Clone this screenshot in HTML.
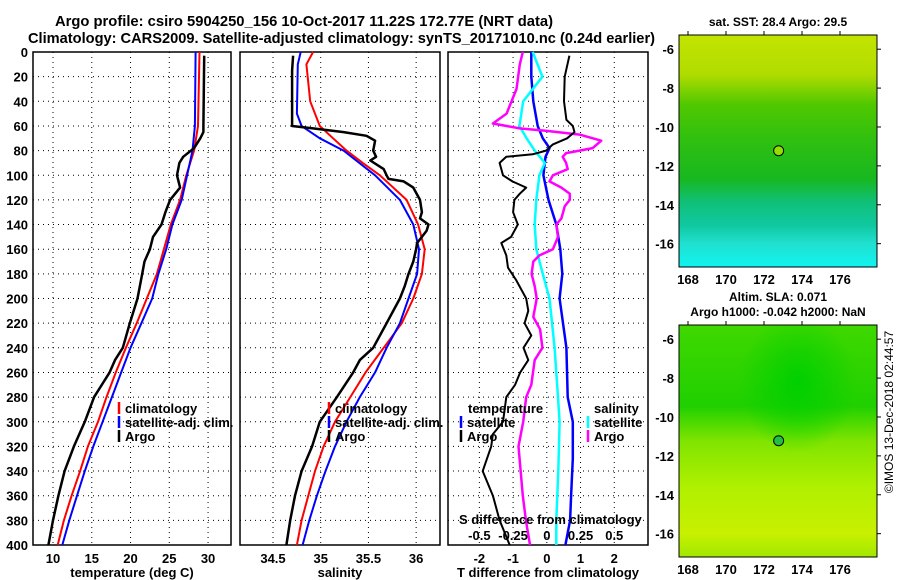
<!DOCTYPE html>
<html><head><meta charset="utf-8"><style>
html,body{margin:0;padding:0;background:#fff;}
svg{display:block;font-family:"Liberation Sans",Arial,sans-serif;font-weight:bold;}
</style></head><body>
<svg id="fig" width="900" height="580" viewBox="0 0 900 580" xmlns="http://www.w3.org/2000/svg">
<defs>
<linearGradient id="sstg" x1="0" y1="0" x2="0" y2="1">
<stop offset="0" stop-color="#c4e400"/><stop offset="0.17" stop-color="#b0dc00"/>
<stop offset="0.3" stop-color="#50c800"/><stop offset="0.45" stop-color="#30c010"/>
<stop offset="0.62" stop-color="#18b820"/><stop offset="0.72" stop-color="#10c078"/>
<stop offset="0.82" stop-color="#10c8a0"/><stop offset="0.9" stop-color="#20e0d0"/>
<stop offset="1" stop-color="#10f4f0"/></linearGradient>
<linearGradient id="slag" x1="0" y1="0" x2="0" y2="1">
<stop offset="0" stop-color="#40d800"/><stop offset="0.35" stop-color="#20d000"/>
<stop offset="0.5" stop-color="#80e400"/><stop offset="0.7" stop-color="#b0f000"/>
<stop offset="0.9" stop-color="#c8f000"/><stop offset="1" stop-color="#a0e800"/></linearGradient>
<radialGradient id="slab" cx="0.6" cy="0.25" r="0.3"><stop offset="0" stop-color="#00d000"/><stop offset="1" stop-color="#00d000" stop-opacity="0"/></radialGradient>
</defs>
<g id="titles">
<text x="55" y="26" font-size="14.7" textLength="498" lengthAdjust="spacingAndGlyphs">Argo profile: csiro 5904250_156 10-Oct-2017 11.22S 172.77E (NRT data)</text>
<text x="28" y="43" font-size="14.7" textLength="627" lengthAdjust="spacingAndGlyphs">Climatology: CARS2009. Satellite-adjusted climatology: synTS_20171010.nc (0.24d earlier)</text>
</g>
<g id="p1"></g><g id="p2"></g><g id="p3"></g>
<g id="maps"></g>
<text transform="translate(893,412) rotate(-90)" font-size="12" font-weight="normal" text-anchor="middle">©IMOS 13-Dec-2018 02:44:57</text>
</svg>
<script>
// ---------- data ----------
const tDepth = [0,60,80,100,120,140,160,180,200,220,240,260,280,300,320,340,360,380,400];
const tClim = [28.9,28.7,28.2,27.2,26.4,25.2,24.3,23.4,22.1,20.8,19.4,18.1,16.9,15.8,14.5,13.5,12.4,11.4,10.6];
const tSat = [28.4,28.3,28.0,27.3,26.6,25.4,24.6,23.6,22.8,21.4,20.0,18.8,17.6,16.4,15.2,14.1,13.1,12.1,11.2];
const argoDepth = [3,60,65,70,78,85,90,100,110,120,130,140,150,160,170,180,200,220,240,250,260,280,300,320,340,360,380,400];
const tArgo = [29.5,29.4,29.4,29.0,28.2,26.8,26.3,26.0,26.4,25.1,24.5,24.0,22.9,22.5,21.8,21.5,20.9,19.9,19.0,18.0,17.3,15.3,14.1,12.7,11.5,10.7,10.0,9.4];
const sDepth = [0,10,40,60,70,80,90,100,120,140,160,180,200,220,240,260,280,300,320,340,360,380,400];
const sClim = [34.92,34.85,34.89,34.99,35.13,35.27,35.44,35.62,35.90,36.02,36.09,36.06,35.97,35.85,35.66,35.47,35.31,35.15,35.03,34.94,34.87,34.80,34.75];
const sSatDepth = [0,10,50,60,70,80,100,120,140,160,180,200,220,240,260,280,300,320,340,360,380,400];
const sSat = [34.79,34.76,34.75,34.80,34.99,35.24,35.57,35.83,35.97,36.03,36.01,35.92,35.83,35.69,35.57,35.41,35.27,35.15,35.05,34.96,34.88,34.81];
const sArgoDepth = [3,15,60,62,65,68,72,80,85,88,95,100,103,105,110,120,130,135,140,145,150,155,160,170,180,190,200,220,240,250,260,280,300,320,340,360,380,400];
const sArgo = [34.71,34.70,34.70,34.92,35.24,35.48,35.57,35.55,35.58,35.52,35.66,35.69,35.71,35.87,35.97,36.04,36.06,36.04,36.13,36.11,36.06,36.01,36.00,35.97,35.92,35.88,35.83,35.69,35.55,35.41,35.34,35.17,34.99,34.91,34.80,34.73,34.68,34.64];
const dtArgoDepth = [3,20,40,55,60,65,70,75,80,83,85,90,100,105,110,115,120,130,140,150,155,165,175,185,200,210,220,230,240,250,260,270,280,300,310,320,340,360,380,400];
const dtArgo = [0.67,0.53,0.51,0.58,0.77,0.82,0.6,0.18,-0.02,-0.42,-1.2,-1.4,-1.3,-1.02,-0.61,-0.8,-0.96,-1.0,-0.86,-1.06,-1.35,-1.2,-1.15,-0.91,-0.61,-0.55,-0.66,-0.46,-0.69,-0.55,-0.79,-0.94,-1.2,-1.3,-1.6,-1.65,-1.9,-1.6,-1.4,-1.1];
const dtSatDepth = [0,20,40,60,70,78,85,100,120,140,160,180,200,240,280,300,330,360,380,400];
const dtSat = [-0.46,-0.46,-0.4,-0.27,-0.12,0.08,-0.04,-0.1,0.05,0.28,0.4,0.46,0.38,0.58,0.62,0.77,0.77,0.72,0.69,0.55];
const dsSatDepth = [0,20,40,60,70,80,90,100,120,140,160,180,200,240,280,300,340,380,400];
const dsSat = [-0.105,-0.033,-0.175,-0.203,-0.15,-0.09,-0.015,-0.055,-0.078,-0.09,-0.078,-0.03,0.02,0.058,0.083,0.095,0.085,0.07,0.07];
const dsArgoDepth = [0,10,30,50,58,62,64,67,72,78,80,82,85,90,95,100,105,110,115,120,125,135,140,150,160,165,170,180,190,200,215,225,240,250,270,280,300,320,360,380,400];
const dsArgo = [-0.178,-0.2,-0.225,-0.298,-0.4,-0.2,0.0,0.243,0.403,0.34,0.243,0.143,0.118,0.143,0.155,0.045,0.02,0.108,0.17,0.17,0.133,0.108,0.07,0.083,0.045,-0.055,-0.1,-0.113,-0.09,-0.075,-0.1,-0.05,-0.033,-0.09,-0.115,-0.153,-0.175,-0.21,-0.178,-0.155,-0.125];
const depthTicks = [0,20,40,60,80,100,120,140,160,180,200,220,240,260,280,300,320,340,360,380,400];
const tTicks = [10,15,20,25,30];
const sTicks = [34.5,35,35.5,36];
const dTicks = [-2,-1,0,1,2];
const dsTicks = [-0.5,-0.25,0,0.25,0.5];
const dsTickLabels = ["-0.5","-0.25","0","0.25","0.5"];
const lonTicks = [168,170,172,174,176];
const latTicks = [-6,-8,-10,-12,-14,-16];
const argoLon = [172.77];
const argoLat = [-11.22];

const NS="http://www.w3.org/2000/svg";
function el(tag, attrs, parent, txt){const e=document.createElementNS(NS,tag);for(const k in attrs)e.setAttribute(k,attrs[k]);if(txt!==undefined)e.textContent=txt;parent.appendChild(e);return e;}
const Y0=52, Y1=545;
const yD = d => Y0 + (d/400)*(Y1-Y0);

function panel(g, x0, x1, vmin, vmax, vticks, labels, xlabel, showDepth){
  const sx = v => x0 + (v-vmin)/(vmax-vmin)*(x1-x0);
  vticks.forEach(v=>{const l=el('line',{x1:sx(v),x2:sx(v),y1:Y0,y2:Y1,stroke:'#000','stroke-width':1,'stroke-dasharray':'1,4'},g);
    });
  depthTicks.forEach(d=>{const l=el('line',{x1:x0,x2:x1,y1:yD(d),y2:yD(d),stroke:'#000','stroke-width':1,'stroke-dasharray':'1,4'},g);
    
    if(showDepth){const t=el('text',{x:x0-5,y:yD(d)+5,'font-size':13,'text-anchor':'end'},g,String(d));
      }});
  vticks.forEach((v,i)=>{const t=el('text',{x:sx(v),y:Y1+18,'font-size':13,'text-anchor':'middle'},g,labels[i]);
    });
  const xl=el('text',{x:(x0+x1)/2,y:Y1+32,'font-size':13,'text-anchor':'middle'},g,xlabel);
  
  const r=el('rect',{x:x0,y:Y0,width:x1-x0,height:Y1-Y0,fill:'none',stroke:'#000','stroke-width':1.5},g);
  
  return sx;
}
function line(g, sx, depths, vals, color, w, name){
  const pts = vals.map((v,i)=>sx(v).toFixed(1)+','+yD(depths[i]).toFixed(1)).join(' ');
  const p=el('polyline',{points:pts,fill:'none',stroke:color,'stroke-width':w,'stroke-linejoin':'round'},g);
  
}
function legendRow(g,x,y,color,label,name){
  const l=el('line',{x1:x,x2:x,y1:y-11,y2:y+1,stroke:color,'stroke-width':2.5},g);
  
  const t=el('text',{x:x+6,y:y,'font-size':13},g,label);
  
}
const g1=document.getElementById('p1');

const sx1=panel(g1,33,231,7.42,32.96,tTicks,tTicks.map(String),'temperature (deg C)',true);
line(g1,sx1,tDepth,tClim,'#f00',2,'temperature-climatology-line');
line(g1,sx1,tDepth,tSat,'#00f',2,'temperature-satellite-line');
line(g1,sx1,argoDepth,tArgo,'#000',2.5,'temperature-argo-line');
legendRow(g1,119,413,'#f00','climatology','legend-climatology');
legendRow(g1,119,427,'#00f','satellite-adj. clim.','legend-satellite');
legendRow(g1,119,441,'#000','Argo','legend-argo');
const g2=document.getElementById('p2');

const sx2=panel(g2,240,440,34.154,36.25,sTicks,sTicks.map(String),'salinity',false);
line(g2,sx2,sDepth,sClim,'#f00',2,'salinity-climatology-line');
line(g2,sx2,sSatDepth,sSat,'#00f',2,'salinity-satellite-line');
line(g2,sx2,sArgoDepth,sArgo,'#000',2.5,'salinity-argo-line');
legendRow(g2,329,413,'#f00','climatology','legend-climatology');
legendRow(g2,329,427,'#00f','satellite-adj. clim.','legend-satellite');
legendRow(g2,329,441,'#000','Argo','legend-argo');
const g3=document.getElementById('p3');

const sx3=panel(g3,448,648,-2.93,3.0,dTicks,dTicks.map(String),'T difference from climatology',false);
const sxS = v => sx3(v*4);
line(g3,sx3,dtSatDepth,dtSat,'#00f',2.5,'t-diff-satellite-line');
line(g3,sxS,dsSatDepth,dsSat,'#0ff',2.5,'s-diff-satellite-line');
line(g3,sxS,dsArgoDepth,dsArgo,'#f0f',2.5,'s-diff-argo-line');
line(g3,sx3,dtArgoDepth,dtArgo,'#000',2,'t-diff-argo-line');
let t=el('text',{x:468,y:413,'font-size':13},g3,'temperature');

legendRow(g3,461,427,'#00f','satellite','legend-t-satellite');
legendRow(g3,461,441,'#000','Argo','legend-t-argo');
t=el('text',{x:594,y:413,'font-size':13},g3,'salinity');

legendRow(g3,588,427,'#0ff','satellite','legend-s-satellite');
legendRow(g3,588,441,'#f0f','Argo','legend-s-argo');
t=el('text',{x:459,y:524,'font-size':13},g3,'S difference from climatology');

dsTicks.forEach((v,i)=>{const tt=el('text',{x:sxS(v),y:540,'font-size':13,'text-anchor':'middle'},g3,dsTickLabels[i]);
  });
const gm=document.getElementById('maps');
function map(x0,y0,x1,y1,fill,name,title1,title2,labY){
  const g=el('g',{},gm);
  
  const la0 = -5.27, la1 = -17.2;
  const lonS = lo => 688 + (lo-168)*19;
  const latS = la => y0 + (la0 - la)*((y1-y0)/(la0-la1));
  const r=el('rect',{x:x0,y:y0,width:x1-x0,height:y1-y0,fill:fill},g);
  
  if(name==='altimetry-map'){
    const b=el('rect',{x:x0,y:y0,width:x1-x0,height:y1-y0,fill:'url(#slab)'},g);
    
  }
  const f=el('rect',{x:x0,y:y0,width:x1-x0,height:y1-y0,fill:'none',stroke:'#000','stroke-width':1},g);
  
  lonTicks.forEach(lo=>{const tl=el('line',{x1:lonS(lo),x2:lonS(lo),y1:y0-4,y2:y0,stroke:'#000'},g);
    
    const tx=el('text',{x:lonS(lo),y:y1+17,'font-size':13,'text-anchor':'middle'},g,String(lo));
    });
  latTicks.forEach(la=>{const tl=el('line',{x1:x1,x2:x1+4,y1:latS(la),y2:latS(la),stroke:'#000'},g);
    
    const tx=el('text',{x:x0-5,y:latS(la)+5,'font-size':13,'text-anchor':'end'},g,String(la));
    });
  argoLon.forEach((lo,i)=>{const c=el('circle',{cx:lonS(lo),cy:latS(argoLat[i]),r:5,fill:name==='sst-map'?'#90e000':'#20c040',stroke:'#000','stroke-width':1},g);
    });
  const t1=el('text',{x:778,y:labY,'font-size':12,'text-anchor':'middle'},g,title1);
  
  if(title2){const t2=el('text',{x:778,y:labY+15,'font-size':12,'text-anchor':'middle'},g,title2);
    }
}
map(679,35,877,267,'url(#sstg)','sst-map','sat. SST: 28.4 Argo: 29.5',null,26);
map(679,325,877,557,'url(#slag)','altimetry-map','Altim. SLA: 0.071','Argo h1000: -0.042 h2000: NaN',301);
</script>
</body></html>
